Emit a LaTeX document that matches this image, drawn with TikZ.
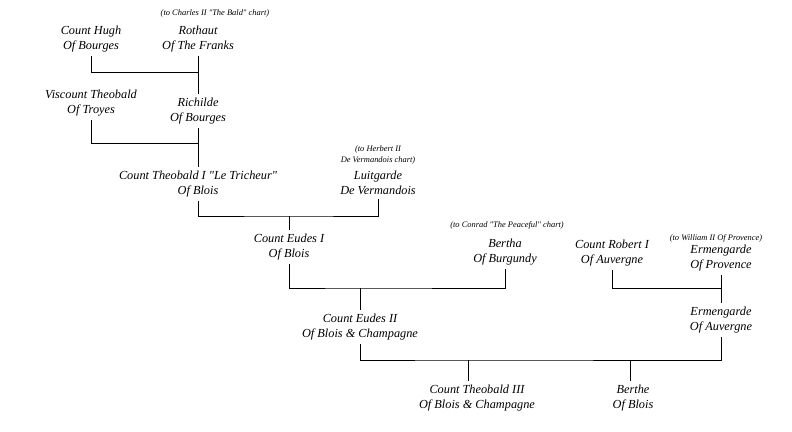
\documentclass[tikz,border=0pt]{standalone}
\usepackage{fontspec}
\usepackage{xcolor}
\setmainfont{Liberation Serif}[Ligatures=TeXOff]

\tikzset{
  person/.style={font=\itshape\fontsize{7}{8.5}\selectfont, align=center, inner sep=2pt},
  chartnote/.style={font=\itshape\fontsize{4.8}{6.2}\selectfont, align=center, inner sep=0pt},
  line/.style={draw=black, line width=0.5pt}
}

\begin{document}
\begin{tikzpicture}[x=0.02cm, y=-0.02cm]

% batas gambar
\useasboundingbox (0,0) rectangle (792,432);

% --- generasi 1 ---
\node[person] (hugh) at (91,39) {Count Hugh\\Of Bourges};
\node[person] (rothaut) at (198,39) {Rothaut\\Of The Franks};
\node[chartnote] (noteA) at (215,13) {(to Charles II "The Bald" chart)};

% --- generasi 2 ---
\node[person] (viscount) at (91,103) {Viscount Theobald\\Of Troyes};
\node[person] (richilde) at (198,111) {Richilde\\Of Bourges};

% --- generasi 3 ---
\node[person] (theobaldI) at (198,184) {Count Theobald I "Le Tricheur"\\Of Blois};
\node[chartnote] (noteB) at (378,155) {(to Herbert II\\De Vermandois chart)};
\node[person] (luitgarde) at (378,183) {Luitgarde\\De Vermandois};

% --- generasi 4 ---
\node[person] (eudesI) at (289,247) {Count Eudes I\\Of Blois};
\node[chartnote] (noteC) at (507,225) {(to Conrad "The Peaceful" chart)};
\node[person] (bertha) at (505,252) {Bertha\\Of Burgundy};
\node[person] (robert) at (612,253) {Count Robert I\\Of Auvergne};
\node[chartnote] (noteD) at (716,238) {(to William II Of Provence)};
\node[person] (ermprov) at (721,258) {Ermengarde\\Of Provence};

% --- generasi 5 ---
\node[person] (eudesII) at (360,327) {Count Eudes II\\Of Blois \& Champagne};
\node[person] (ermauv) at (721,320) {Ermengarde\\Of Auvergne};

% --- generasi 6 ---
\node[person] (theobaldIII) at (477,398) {Count Theobald III\\Of Blois \& Champagne};
\node[person] (berthe) at (633,398) {Berthe\\Of Blois};

% titik pernikahan
\coordinate (m1) at (198,72);
\coordinate (m2) at (198,143);
\coordinate (m3) at (289,216);
\coordinate (m4) at (360,288);
\coordinate (m5) at (721,288);
\coordinate (m6) at (468,360);
\coordinate (m7) at (630,360);

% garis
\draw[line] (hugh.south) |- (m1);
\draw[line] (rothaut.south) -- (richilde.north);

\draw[line] (viscount.south) |- (m2);
\draw[line] (richilde.south) -- (theobaldI.north);

\draw[line] (theobaldI.south) |- (m3) -| (luitgarde.south);
\draw[line] (m3) -- (eudesI.north);

\draw[line] (eudesI.south) |- (m4) -| (bertha.south);
\draw[line] (m4) -- (eudesII.north);

\draw[line] (robert.south) |- (m5);
\draw[line] (ermprov.south) -- (ermauv.north);

\draw[line] (eudesII.south) |- (m6) -| (ermauv.south);
\draw[line] (m6) -- (m6 |- theobaldIII.north);
\draw[line] (m7) -- (m7 |- berthe.north);

\end{tikzpicture}
\end{document}
